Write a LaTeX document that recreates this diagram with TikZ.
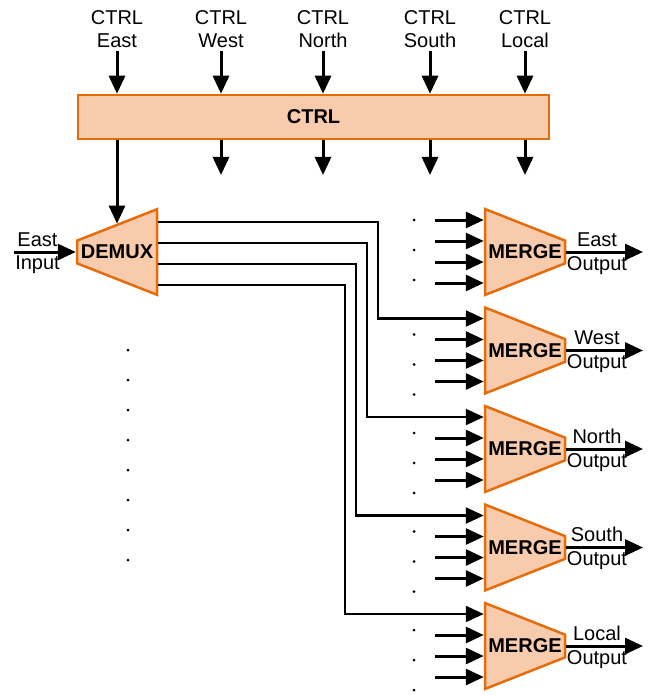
\documentclass[tikz,border=0pt]{standalone}
\usepackage{fontspec}
\setmainfont{Liberation Sans}
\usetikzlibrary{shapes.geometric,arrows.meta}
\definecolor{boxfill}{HTML}{F8CBAD}
\definecolor{boxline}{HTML}{E46C0A}
\newcommand{\bigfont}{\fontsize{20}{23.5}\selectfont}
\tikzset{
  blk/.style={draw=boxline, fill=boxfill, line width=2.5pt, font=\bigfont\bfseries},
  mux/.style={blk, trapezium, trapezium left angle=75, trapezium right angle=75,
    trapezium stretches=true, minimum width=86pt, minimum height=80pt, inner sep=0pt},
  wire/.style={line width=3pt, -{Triangle[length=18pt,width=16pt]}},
  route/.style={wire, line width=2.3pt},
  lbl/.style={inner sep=0pt, text height=14pt, text depth=4pt},
  ctrllbl/.style={align=center, inner sep=0pt}
}
\begin{document}
\begin{tikzpicture}[x=1pt, y=-1pt, font=\bigfont]
  \useasboundingbox (0,0) rectangle (651,695);
  \node[blk, minimum width=471pt, minimum height=44pt] (ctrl) at (313.5,117) {CTRL};
  \node[mux, shape border rotate=90] (dm) at (117,252) {DEMUX};

  % control inputs and outputs
  \foreach \d/\x in {East/117, West/221, North/323, South/430, Local/525} {
    \node[ctrllbl] (t\d) at (\x,29) {CTRL\\\d};
    \draw[wire] ([yshift=-3pt]t\d.south) -- (t\d.south |- ctrl.north);
  }
  \foreach \d in {West, North, South, Local} {
    \coordinate (b\d) at (t\d.south |- 0,175);
    \draw[wire] (t\d.south |- ctrl.south) -- (b\d);
  }
  \draw[wire] (dm.center |- ctrl.south) -- (dm);

  % east input
  \coordinate (inE) at (14,252);
  \draw[wire] (inE) -- (dm.top side);
  \node[lbl] (inEa) at (37.5,241) {East};
  \node[lbl] (inEb) at (37.5,264) {Input};

  \foreach \k in {0,...,7} \fill (128,350+30*\k) circle (1.5pt);

  % merge blocks
  \foreach \i/\d in {1/East, 2/West, 3/North, 4/South, 5/Local} {
    \pgfmathsetmacro\yc{252+98.5*(\i-1)}
    \node[mux, shape border rotate=270] (m\i) at (525,\yc) {MERGE};
    \coordinate (o\i) at (643,\yc);
    \draw[wire] (m\i.top side) -- (o\i);
    \node[lbl] (oa\i) at (597,\yc-11) {\d};
    \node[lbl] (ob\i) at (597,\yc+13) {Output};
    \foreach \dy in {-11,10,31} {
      \coordinate (s\i\dy) at (435,\yc+\dy);
      \draw[wire] (s\i\dy) -- (s\i\dy -| m\i.bottom side);
    }
  }
  \coordinate (s1) at (435,220);
  \draw[wire] (s1) -- (s1 -| m1.bottom side);
  \foreach \dy in {-32,-2,28} \fill (414,252+\dy) circle (1.5pt);
  \foreach \i in {2,...,5}
    \foreach \dy in {-16,14,44} \fill (414,{252+98.5*(\i-1)+\dy}) circle (1.5pt);

  % demux to merges
  \foreach \k/\sh/\xt in {1/30/378, 2/9/367, 3/-12/356, 4/-33/345} {
    \pgfmathtruncatemacro\j{\k+1}
    \coordinate (r\k) at (\xt,{252+98.5*\k-32});
    \draw[route] ([yshift=\sh pt]dm.bottom side) -| (r\k) -- (r\k -| m\j.bottom side);
  }
\end{tikzpicture}
\end{document}
